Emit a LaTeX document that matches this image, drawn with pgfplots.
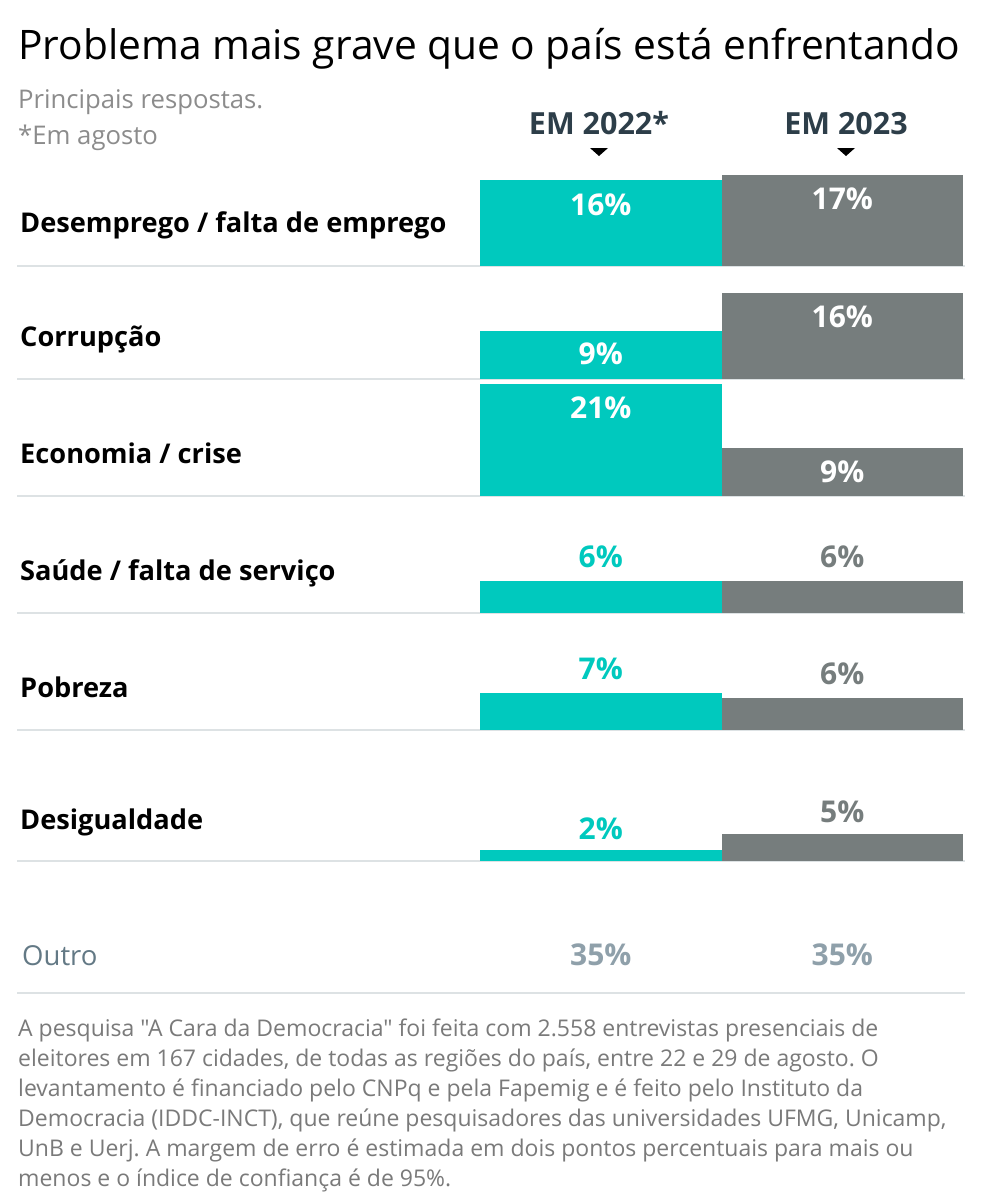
\documentclass[border=0pt]{standalone}
\usepackage{pgfplots}
\pgfplotsset{compat=1.18}
\usepackage{fontspec}
\setmainfont{Open Sans}
\newfontfamily\notefont[Ligatures=TeXOff]{Open Sans}
\definecolor{cteal}{HTML}{00C9BE}
\definecolor{cgray}{HTML}{767D7D}
\definecolor{sepgray}{HTML}{DDE2E4}
\definecolor{hdr}{HTML}{2D3E49}
\definecolor{subgray}{HTML}{8C8C8C}
\definecolor{notegray}{HTML}{7A7A7A}
\definecolor{outlab}{HTML}{637985}
\definecolor{outval}{HTML}{8FA0AA}
\newcommand{\fs}[1]{\fontsize{#1}{#1}\selectfont}
\pgfplotsset{rowaxis/.style={hide axis, clip=false, anchor=south west,
  x=241.5pt, y=5.35pt, xmin=0, xmax=2, ymin=0, ymax=22,
  ybar, bar width=241.5pt, bar shift=0pt,
  /pgf/number format/assume math mode=true,
  /pgf/number format/precision=0,
  nodes near coords={\pgfmathprintnumber{\pgfplotspointmeta}\%},
  every node near coord/.append style={anchor=center, font=\bfseries\fs{30}}}}
% #1 baseline (px), #2 value 2022, #3 value 2023, #4 label shift, #5 colour 2022 label, #6 colour 2023 label
\newcommand{\barrow}[6]{%
\begin{axis}[rowaxis, at={(480pt,-#1pt)}]
\addplot[fill=cteal, draw=none, every node near coord/.append style={text=#5, yshift=#4pt}] coordinates {(0.5,#2)};
\addplot[fill=cgray, draw=none, every node near coord/.append style={text=#6, yshift=#4pt}] coordinates {(1.5,#3)};
\end{axis}}
\begin{document}
\frenchspacing
\begin{tikzpicture}[x=1pt,y=1pt]
\path[use as bounding box, fill=white] (0,0) rectangle (984,-1204);
% title and headers
\node[anchor=base west, inner sep=0] at (18,-60) {\fs{40.7}Problema mais grave que o país está enfrentando};
\node[anchor=base west, inner sep=0, text=subgray] at (18,-109) {\fs{25.7}Principais respostas.};
\node[anchor=base west, inner sep=0, text=subgray] at (18,-145) {\fs{25.7}*Em agosto};
\node[anchor=base, inner sep=0, text=hdr] at (599,-135) {\bfseries\fs{30.5}EM 2022*};
\node[anchor=base, inner sep=0, text=hdr] at (846,-135) {\bfseries\fs{30.5}EM 2023};
\fill[black] (590,-148) -- (608,-148) -- (599,-156) -- cycle;
\fill[black] (837,-148) -- (855,-148) -- (846,-156) -- cycle;
% separators
\foreach \yy in {266,379,496,613,730,861,993}
  \draw[sepgray, line width=1.5pt] (17,-\yy) -- (965,-\yy);
% row labels
\begin{scope}[every node/.style={anchor=base west, inner sep=0, font=\bfseries\fs{27.2}}]
\node at (20,-232) {Desemprego / falta de emprego};
\node at (20,-346) {Corrupção};
\node at (20,-463) {Economia / crise};
\node at (20,-580) {Saúde / falta de serviço};
\node at (20,-697) {Pobreza};
\node at (20,-829) {Desigualdade};
\end{scope}
\node[anchor=base west, inner sep=0, text=outlab] at (22,-965) {\fs{27.5}Outro};
% bars
\barrow{266}{16}{17}{-24}{white}{white}
\barrow{379}{9}{16}{-23}{white}{white}
\barrow{496}{21}{9}{-24}{white}{white}
\barrow{613}{6}{6}{24}{cteal}{cgray}
\barrow{730}{7}{6}{24}{cteal}{cgray}
\barrow{861}{2}{5}{22}{cteal}{cgray}
% Outro values
\begin{axis}[rowaxis, at={(480pt,-955pt)}, point meta=explicit]
\addplot[draw=none, fill=none, every node near coord/.append style={text=outval}] coordinates {(0.5,0) [35] (1.5,0) [35]};
\end{axis}
% footnote
\begin{scope}[every node/.style={anchor=base west, inner sep=0, text=notegray, font=\notefont\fs{23}}]
\node at (18,-1036) {A pesquisa "A Cara da Democracia" foi feita com 2.558 entrevistas presenciais de};
\node at (18,-1066) {eleitores em 167 cidades, de todas as regiões do país, entre 22 e 29 de agosto. O};
\node at (18,-1096) {levantamento é financiado pelo CNPq e pela Fapemig e é feito pelo Instituto da};
\node at (18,-1126) {Democracia (IDDC-INCT), que reúne pesquisadores das universidades UFMG, Unicamp,};
\node at (18,-1156) {UnB e Uerj. A margem de erro é estimada em dois pontos percentuais para mais ou};
\node at (18,-1186) {menos e o índice de confiança é de 95\%.};
\end{scope}
\end{tikzpicture}
\end{document}
